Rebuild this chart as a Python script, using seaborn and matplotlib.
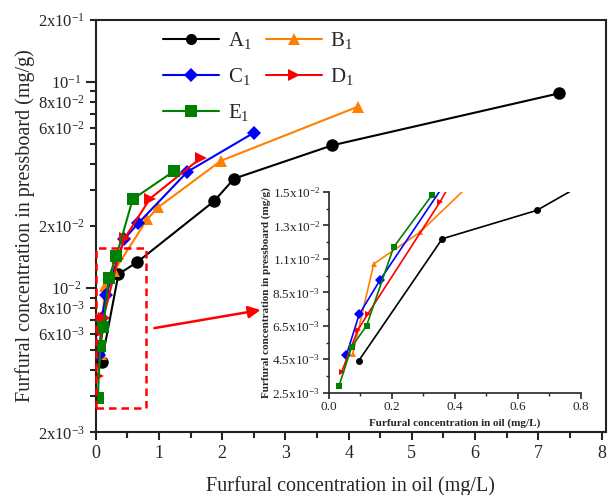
import numpy as np
import pandas as pd
import seaborn as sns
import matplotlib.pyplot as plt
from matplotlib.patches import Rectangle

# data
series = ["A$_1$", "B$_1$", "C$_1$", "D$_1$", "E$_1$"]
a1_x = [0.095, 0.36, 0.66, 1.87, 2.19, 3.74, 7.32]
a1_y = [4.4e-3, 1.17e-2, 1.34e-2, 2.64e-2, 3.40e-2, 4.93e-2, 8.8e-2]
b1_x = [0.076, 0.143, 0.29, 0.815, 0.99, 1.98, 4.15]
b1_y = [4.8e-3, 1.02e-2, 1.21e-2, 2.16e-2, 2.47e-2, 4.15e-2, 7.6e-2]
c1_x = [0.056, 0.097, 0.163, 0.45, 0.67, 1.45, 2.50]
c1_y = [4.74e-3, 7.19e-3, 9.24e-3, 1.73e-2, 2.06e-2, 3.67e-2, 5.67e-2]
d1_x = [0.041, 0.092, 0.124, 0.353, 0.46, 0.86, 1.67]
d1_y = [3.74e-3, 6.23e-3, 7.2e-3, 1.39e-2, 1.75e-2, 2.72e-2, 4.30e-2]
e1_x = [0.033, 0.073, 0.12, 0.206, 0.327, 0.585, 1.24]
e1_y = [2.92e-3, 5.25e-3, 6.5e-3, 1.12e-2, 1.43e-2, 2.70e-2, 3.70e-2]

xs = [a1_x, b1_x, c1_x, d1_x, e1_x]
ys = [a1_y, b1_y, c1_y, d1_y, e1_y]
colors = ["black", "#FF8000", "#0000FF", "#FF0000", "#008000"]
markers = ["o", "^", "D", ">", "s"]

rows = []
for name, x, y in zip(series, xs, ys):
    for i in range(len(x)):
        rows.append({"sample": name, "oil": x[i], "board": y[i], "order": i})
df = pd.DataFrame(rows)

pal = dict(zip(series, colors))
mk = dict(zip(series, markers))

sns.set_style("ticks")
plt.rcParams["font.family"] = ["Liberation Serif", "DejaVu Serif"]
plt.rcParams["mathtext.fontset"] = "custom"
plt.rcParams["mathtext.rm"] = "Liberation Serif"
plt.rcParams["mathtext.it"] = "Liberation Serif:italic"

fig = plt.figure(figsize=(6.08, 4.95), dpi=100)
ax = fig.add_axes([0.1574, 0.1267, 0.8393, 0.833])

sns.lineplot(data=df, x="oil", y="board", hue="sample", style="sample",
             palette=pal, markers=mk, dashes=False, sort=False,
             markersize=9, markeredgewidth=0, linewidth=1.5, ax=ax)
# diamonds come out too big at the same size
for ln in ax.lines:
    if ln.get_marker() == "D":
        ln.set_markersize(7)

ax.set_yscale("log")
ax.set_xlim(0, 8.07)
ax.set_ylim(2e-3, 2e-1)

# y ticks like the original
ax.set_yticks([1e-2, 1e-1])
ax.set_yticklabels(["10$^{-2}$", "10$^{-1}$"])
minor_vals = [2e-3, 3e-3, 4e-3, 5e-3, 6e-3, 7e-3, 8e-3, 9e-3,
              2e-2, 3e-2, 4e-2, 5e-2, 6e-2, 7e-2, 8e-2, 9e-2, 2e-1]
minor_labs = []
for v in minor_vals:
    e = int(np.floor(np.log10(v)))
    m = int(round(v / 10 ** e))
    if m in (2, 6, 8):
        minor_labs.append("%dx10$^{%d}$" % (m, e))
    else:
        minor_labs.append("")
ax.set_yticks(minor_vals, minor=True)
ax.set_yticklabels(minor_labs, minor=True)

ax.set_xticks(range(0, 9))
ax.set_xticks(np.arange(0.5, 8, 1.0), minor=True)
ax.tick_params(axis="x", which="major", labelsize=13, length=6, width=1.5, direction="out")
ax.tick_params(axis="x", which="minor", length=4, width=1.5, direction="out")
ax.tick_params(axis="y", which="major", labelsize=12, length=7, width=1.5, direction="out")
ax.tick_params(axis="y", which="minor", labelsize=12, length=4, width=1.5, direction="out")
for s in ax.spines.values():
    s.set_linewidth(1.5)
    s.set_color("#222222")

ax.set_xlabel("Furfural concentration in oil (mg/L)", fontsize=14.5, labelpad=10)
ax.set_ylabel("Furfural concentration in pressboard (mg/g)", fontsize=14.5, labelpad=2)

# legend row by row: A B / C D / E
handles, labels = ax.get_legend_handles_labels()
idx = [0, 2, 4, 1, 3]
leg = ax.legend([handles[i] for i in idx], [labels[i] for i in idx],
                ncol=2, frameon=False, fontsize=15, handlelength=2.7,
                loc="upper left", bbox_to_anchor=(0.095, 1.02),
                columnspacing=0.7, handletextpad=0.4, labelspacing=0.72)
for h in leg.legend_handles:
    h.set_markersize(8 if h.get_marker() != "D" else 7)

# zoom box and arrow
ax.add_patch(Rectangle((0.0, 2.62e-3), 0.79, 1.57e-2 - 2.62e-3, fill=False,
                       edgecolor="red", linestyle=(0, (3, 2)), linewidth=1.8,
                       clip_on=False, zorder=5))
ax.annotate("", xy=(2.65, 7.88e-3), xytext=(0.885, 6.37e-3),
            arrowprops=dict(arrowstyle="-|>", color="red", lw=1.8, mutation_scale=18))

# inset
ins = fig.add_axes([0.5406, 0.2067, 0.415, 0.4055])
ins.patch.set_alpha(0)
sns.lineplot(data=df, x="oil", y="board", hue="sample", style="sample",
             palette=pal, markers=mk, dashes=False, sort=False,
             markersize=5, markeredgewidth=0, linewidth=1.2, ax=ins, legend=False)
ins.set_xlim(0, 0.8)
ins.set_ylim(2.5e-3, 14.5e-3)
ins.set_xticks([0.0, 0.2, 0.4, 0.6, 0.8])
ins.set_xticklabels(["0.0", "0.2", "0.4", "0.6", "0.8"])
ins.set_xticks([0.1, 0.3, 0.5, 0.7], minor=True)
ins_yt = [2.5e-3, 4.5e-3, 6.5e-3, 8.5e-3, 10.5e-3, 12.5e-3, 14.5e-3]
ins_yl = ["2.5x10$^{-3}$", "4.5x10$^{-3}$", "6.5x10$^{-3}$", "8.5x10$^{-3}$",
          "1.1x10$^{-2}$", "1.3x10$^{-2}$", "1.5x10$^{-2}$"]
ins.set_yticks(ins_yt)
ins.set_yticklabels(ins_yl)
ins.set_yticks(np.arange(3.5e-3, 14e-3, 2e-3), minor=True)
ins.tick_params(which="major", labelsize=9.5, length=4, width=1.2, direction="out", pad=2)
ins.tick_params(which="minor", length=2, width=1.0, direction="out")
ins.spines["top"].set_visible(False)
ins.spines["right"].set_visible(False)
for s in ["left", "bottom"]:
    ins.spines[s].set_linewidth(1.2)
ins.set_xlabel("Furfural concentration in oil (mg/L)", fontsize=8, fontweight="bold", labelpad=4)
ins.set_ylabel("Furfural concentration in pressboard (mg/g)", fontsize=8, fontweight="bold", labelpad=1)

fig.savefig("out.png", dpi=100)
